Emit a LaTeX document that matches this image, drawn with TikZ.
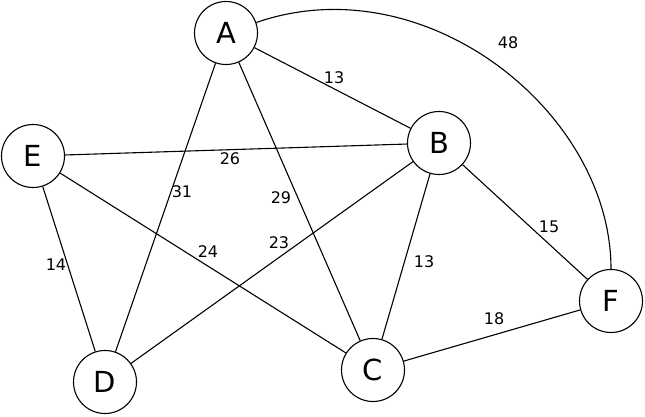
\documentclass[tikz,border=0pt]{standalone}
\usepackage{fontspec}
\setmainfont{DejaVu Sans}
\begin{document}
\begin{tikzpicture}[x=1pt,y=-1pt,
  vertex/.style={draw,circle,line width=1.1pt,minimum size=63pt,inner sep=0pt,font=\fontsize{29}{30}\selectfont},
  edge/.style={line width=1.1pt},
  wlabel/.style={inner sep=0pt,font=\fontsize{16}{17}\selectfont}]
\useasboundingbox (0,0) rectangle (645,417);
\node[vertex] (A) at (226,33) {A};
\node[vertex] (B) at (439,143) {B};
\node[vertex] (E) at (33,156) {E};
\node[vertex] (F) at (611,301) {F};
\node[vertex] (C) at (373,370) {C};
\node[vertex] (D) at (105,382) {D};
\draw[edge] (A) -- (B);
\draw[edge] (A) .. controls (425,-36) and (611,112) .. (F);
\draw[edge] (E) -- (B);
\draw[edge] (A) -- (D);
\draw[edge] (A) -- (C);
\draw[edge] (E) -- (C);
\draw[edge] (D) -- (B);
\draw[edge] (B) -- (C);
\draw[edge] (B) -- (F);
\draw[edge] (E) -- (D);
\draw[edge] (C) -- (F);
\node[wlabel] (lAB) at (334,78) {13};
\node[wlabel] (lAF) at (508,43) {48};
\node[wlabel] (lEB) at (230,159) {26};
\node[wlabel] (lAD) at (182,192) {31};
\node[wlabel] (lAC) at (281,198) {29};
\node[wlabel] (lEC) at (208,252) {24};
\node[wlabel] (lDB) at (279,243) {23};
\node[wlabel] (lBC) at (424,262) {13};
\node[wlabel] (lBF) at (549,227) {15};
\node[wlabel] (lED) at (56,265) {14};
\node[wlabel] (lCF) at (494,319) {18};
\end{tikzpicture}
\end{document}
